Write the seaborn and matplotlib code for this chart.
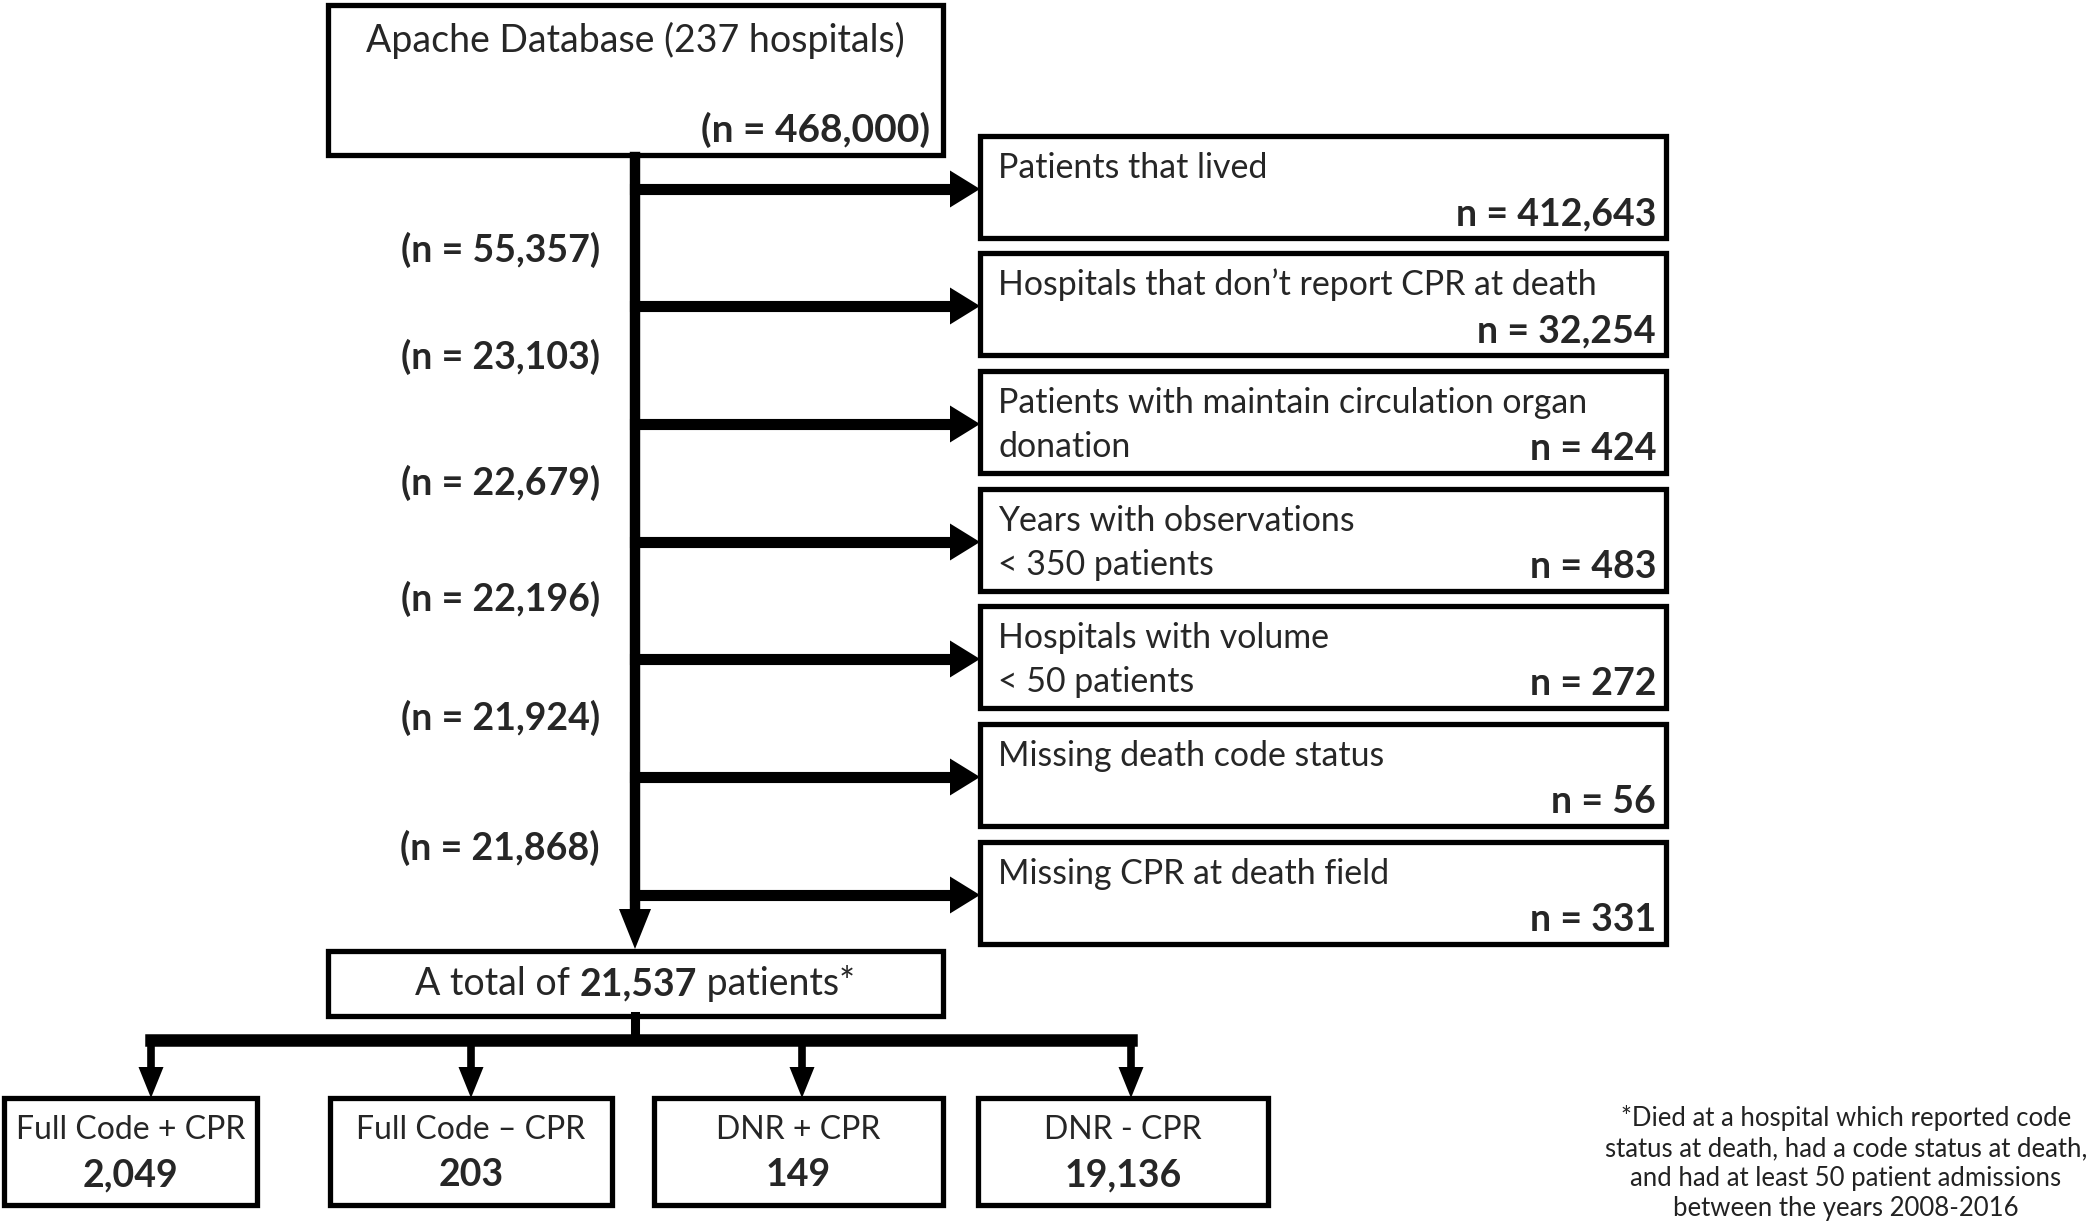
import matplotlib
matplotlib.use("Agg")
import matplotlib.pyplot as plt
import seaborn as sns
from matplotlib.patches import Rectangle

# flowchart data
start_label = "Apache Database (237 hospitals)"
start_n = 468000
excl_labels = ["Patients that lived",
               "Hospitals that don\u2019t report CPR at death",
               "Patients with maintain circulation organ\ndonation",
               "Years with observations\n< 350 patients",
               "Hospitals with volume\n< 50 patients",
               "Missing death code status",
               "Missing CPR at death field"]
excl_n = [412643, 32254, 424, 483, 272, 56, 331]
remain_n = [55357, 23103, 22679, 22196, 21924, 21868]
total_n = 21537
group_labels = ["Full Code + CPR", "Full Code \u2013 CPR", "DNR + CPR", "DNR - CPR"]
group_n = [2049, 203, 149, 19136]
footnote = ("*Died at a hospital which reported code\n"
            "status at death, had a code status at death,\n"
            "and had at least 50 patient admissions\n"
            "between the years 2008-2016")

sns.set_theme(style="white")
plt.rcParams['font.family'] = ['Lato', 'DejaVu Sans']

W, H = 2097, 1231
fig = plt.figure(figsize=(W / 100, H / 100), dpi=100)
ax = fig.add_axes([0, 0, 1, 1])
ax.set_xlim(0, W)
ax.set_ylim(H, 0)
ax.axis("off")

BLW = 3.8   # box border
LLW = 7.5   # connector lines
FS = 25


def box(x0, y0, x1, y1):
    ax.add_patch(Rectangle((x0, y0), x1 - x0, y1 - y0, fill=False,
                           ec="black", lw=BLW, joinstyle="miter"))


def line(xs, ys, lw=LLW):
    ax.plot(xs, ys, color="black", lw=lw, solid_capstyle="projecting")


def head(x, y, direction, length, width):
    # filled triangle with tip at (x, y)
    if direction == "right":
        pts = [(x, y), (x - length, y - width / 2), (x - length, y + width / 2)]
    else:  # down
        pts = [(x, y), (x - width / 2, y - length), (x + width / 2, y - length)]
    xs, ys = zip(*pts)
    ax.fill(xs, ys, color="black", lw=0)


def fmt(v):
    return f"{v:,}"


# top box
box(328, 5, 943, 155)
ax.text(635, 40, start_label, ha="center", va="center", fontsize=FS + 2)
ax.text(930, 130, f"(n = {fmt(start_n)})", ha="right", va="center",
        fontsize=FS + 3, fontweight="bold")

# main spine
mx = 635
line([mx, mx], [157, 915])
head(mx, 949, "down", 40, 32)

# exclusion boxes
side_y = [189, 306, 424, 542, 659, 777, 895]
bx0, bx1 = 980, 1666
bh = 102
for i, (lab, n) in enumerate(zip(excl_labels, excl_n)):
    yc = side_y[i]
    y0 = yc - 53
    line([mx, bx0 - 28], [yc, yc], lw=8)
    head(bx0, yc, "right", 30, 37)
    box(bx0, y0, bx1, y0 + bh)
    for k, part in enumerate(lab.split("\n")):
        ax.text(bx0 + 18, y0 + 32 + 44 * k, part, ha="left", va="center",
                fontsize=FS - 0.6)
    ax.text(bx1 - 10, y0 + bh - 24, f"n = {fmt(n)}", ha="right", va="center",
            fontsize=FS + 2, fontweight="bold")

# remaining counts on the left
rem_y = [250, 357, 483, 599, 718, 848]
for yc, n in zip(rem_y, remain_n):
    ax.text(600, yc, f"(n = {fmt(n)})", ha="right", va="center",
            fontsize=FS + 2, fontweight="bold")

# total box with mixed weights
box(328, 951, 943, 1016)
fig.canvas.draw()
r = fig.canvas.get_renderer()
parts = [("A total of ", "normal"), (fmt(total_n), "bold"), (" patients*", "normal")]
objs = [ax.text(0, 984, s, ha="left", va="center", fontsize=FS + 2, fontweight=w)
        for s, w in parts]
widths = [o.get_window_extent(r).width for o in objs]
x = 635 - sum(widths) / 2
for o, w in zip(objs, widths):
    o.set_x(x)
    x += w

# branches
line([mx, mx], [1016, 1040], lw=6.5)
gx = [151, 471, 802, 1131]
line([gx[0], gx[-1]], [1040, 1040], lw=9)
gbox = [(4, 257), (330, 612), (654, 943), (978, 1268)]
for x, (x0, x1), lab, n in zip(gx, gbox, group_labels, group_n):
    line([x, x], [1040, 1070], lw=5.5)
    head(x, 1098, "down", 31, 25)
    box(x0, 1098, x1, 1205)
    ax.text((x0 + x1) / 2, 1130, lab, ha="center", va="center", fontsize=FS - 2)
    ax.text((x0 + x1) / 2, 1175, fmt(n), ha="center", va="center",
            fontsize=FS + 2, fontweight="bold")

ax.text(1846, 1163, footnote, ha="center", va="center", fontsize=18.5,
        linespacing=1.25, color="#222222")

fig.savefig("out.png", dpi=100, facecolor="white")
